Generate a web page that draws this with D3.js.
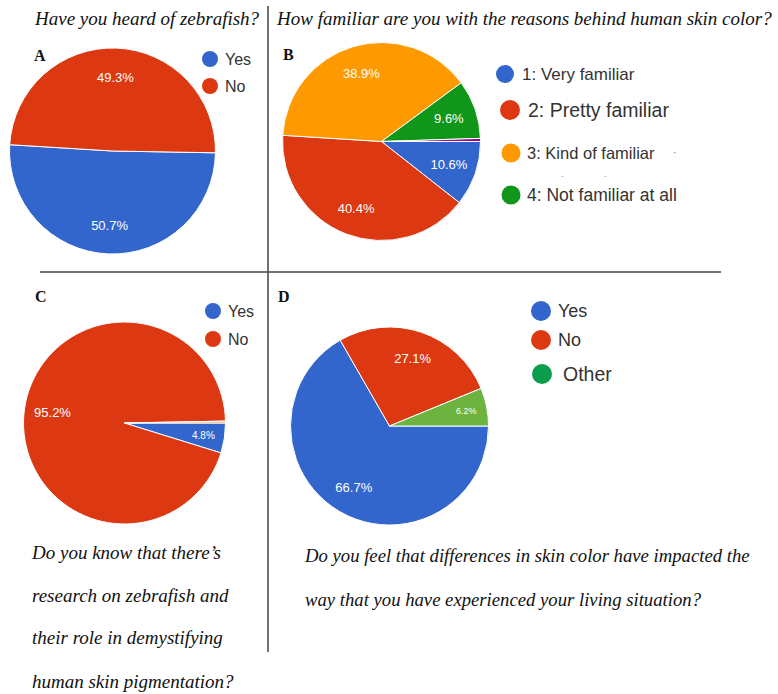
<!DOCTYPE html>
<html><head><meta charset="utf-8">
<script src="https://cdn.jsdelivr.net/npm/d3@7"></script>
<style>body{margin:0;background:#fff}svg{display:block}</style>
</head><body>
<script>
// ---- data ----
const catsA = ["Yes", "No"];
const valsA = [50.7, 49.3];
const catsB = ["1: Very familiar", "2: Pretty familiar", "3: Kind of familiar", "4: Not familiar at all", ""];
const valsB = [10.6, 40.4, 38.9, 9.6, 0.5];
const catsC = ["Yes", "No", ""];
const valsC = [4.8, 95.2, 0.3];
const catsD = ["Yes", "No", "Other"];
const valsD = [66.7, 27.1, 6.2];
const titleA = ["Have you heard of zebrafish?"];
const titleB = ["How familiar are you with the reasons behind human skin color?"];
const textC = ["Do you know that there\u2019s", "research on zebrafish and", "their role in demystifying", "human skin pigmentation?"];
const textD = ["Do you feel that differences in skin color have impacted the", "way that you have experienced your living situation?"];

const W = 778, H = 694;
const svg = d3.select("body").append("svg").attr("width", W).attr("height", H);
svg.append("rect").attr("width", W).attr("height", H).attr("fill", "#fff");

const SERIF = "'Liberation Serif','Times New Roman',serif";
const SANS = "'Liberation Sans',Arial,sans-serif";
const fmt = v => d3.format(".1f")(v) + "%";

function pieChart(cfg) {
  const color = d3.scaleOrdinal().domain(cfg.cats).range(cfg.colors);
  const pie = d3.pie().sort(null).value(d => d.v)
    .startAngle(cfg.start).endAngle(cfg.start + 2 * Math.PI);
  const data = cfg.cats.map((c, i) => ({c, v: cfg.vals[i], i}));
  const arcs = pie(data);
  const g = svg.append("g").attr("transform", `translate(${cfg.cx},${cfg.cy})`);
  const arc = d3.arc().innerRadius(0).outerRadius(cfg.r);
  g.selectAll("path").data(arcs).join("path")
    .attr("d", arc)
    .attr("fill", d => color(d.data.c))
    .attr("stroke", "#fff").attr("stroke-width", 1);
  g.selectAll("text").data(arcs.filter(d => d.data.v >= 3)).join("text")
    .attr("transform", d => {
      const small = d.data.v < 7;
      const lr = cfg.r * (small ? 0.79 : 0.72);
      const a = (d.startAngle + d.endAngle) / 2;
      return `translate(${lr * Math.sin(a)},${-lr * Math.cos(a)})`;
    })
    .attr("text-anchor", "middle").attr("dy", "0.36em")
    .attr("fill", "#fff").attr("font-family", SANS)
    .attr("font-size", d => d.data.v < 7 ? (d.data.v < 5.5 ? 10 : 9) : 13)
    .text(d => fmt(d.data.v));
  return color;
}

const blue = "#3366cc", red = "#dc3912", orange = "#ff9900", green = "#109618", purple = "#990099";

// A
pieChart({cx: 112.5, cy: 151, r: 103, start: 91 * Math.PI / 180,
  cats: catsA.map((c, i) => c + i), vals: valsA, colors: [blue, red]});
// B
pieChart({cx: 381.5, cy: 141.5, r: 99, start: Math.PI / 2,
  cats: catsB.map((c, i) => c + i), vals: valsB, colors: [blue, red, orange, green, purple]});
// C
pieChart({cx: 124.5, cy: 423, r: 101, start: Math.PI / 2,
  cats: catsC.map((c, i) => c + i), vals: valsC, colors: [blue, red, "#f4a742"]});
// D
pieChart({cx: 389.5, cy: 426, r: 99, start: Math.PI / 2,
  cats: catsD.map((c, i) => c + i), vals: valsD, colors: [blue, red, "#6db33f"]});

// legends
function legend(items, colors, xs, ys, tx, rads, sizes) {
  items.forEach((t, i) => {
    svg.append("circle").attr("cx", xs[i]).attr("cy", ys[i]).attr("r", rads[i]).attr("fill", colors[i]);
    svg.append("text").attr("x", tx[i]).attr("y", ys[i]).attr("dy", "0.36em")
      .attr("font-family", SANS).attr("font-size", sizes[i]).attr("fill", "#333").text(t);
  });
}
legend(catsA, [blue, red], [210, 210], [59, 86], [225, 225], [8, 8], [16, 16]);
legend(catsB.slice(0, 4), [blue, red, orange, green], [505, 510, 511, 511], [74, 110, 153, 195],
  [522, 528, 527, 527], [9, 10, 9.5, 9.5], [17, 19.5, 16.5, 17.5]);
legend(catsC.slice(0, 2), [blue, red], [213, 213], [311, 339], [228, 228], [8, 8], [16, 16]);
legend(catsD, [blue, red, "#0b9d4b"], [541, 541, 542], [311, 340, 374], [558, 558, 563], [10, 10, 10], [18, 18, 19.5]);
// stray marks in legend B
svg.append("text").attr("x", 673).attr("y", 156).attr("font-family", SANS).attr("font-size", 10).attr("fill", "#777").text("\u00b7");
svg.append("text").attr("x", 561).attr("y", 178).attr("font-family", SANS).attr("font-size", 8).attr("fill", "#999").text("-");
svg.append("text").attr("x", 604).attr("y", 178).attr("font-family", SANS).attr("font-size", 8).attr("fill", "#999").text("-");

// titles
svg.append("text").attr("x", 35).attr("y", 25).attr("font-family", SERIF).attr("font-style", "italic")
  .attr("font-size", 19).attr("fill", "#111").text(titleA[0]);
svg.append("text").attr("x", 277).attr("y", 25).attr("font-family", SERIF).attr("font-style", "italic")
  .attr("font-size", 19).attr("fill", "#111").text(titleB[0]);

// panel letters
[["A", 34, 61], ["B", 283, 60], ["C", 35, 302], ["D", 278, 302]].forEach(([t, x, y]) => {
  svg.append("text").attr("x", x).attr("y", y).attr("font-family", SERIF).attr("font-weight", "bold")
    .attr("font-size", 16).attr("fill", "#111").text(t);
});

// body text
textC.forEach((t, i) => svg.append("text").attr("x", 32).attr("y", [559, 602, 644, 688][i])
  .attr("font-family", SERIF).attr("font-style", "italic").attr("font-size", 19).attr("fill", "#111").text(t));
textD.forEach((t, i) => svg.append("text").attr("x", 305).attr("y", [562, 606][i])
  .attr("font-family", SERIF).attr("font-style", "italic").attr("font-size", 18.7).attr("fill", "#111").text(t));

// dividers
svg.append("line").attr("x1", 268).attr("x2", 268).attr("y1", 6).attr("y2", 652)
  .attr("stroke", "#444").attr("stroke-width", 1.5);
svg.append("line").attr("x1", 40).attr("x2", 721).attr("y1", 272).attr("y2", 272)
  .attr("stroke", "#444").attr("stroke-width", 1.5);
</script>
</body></html>
